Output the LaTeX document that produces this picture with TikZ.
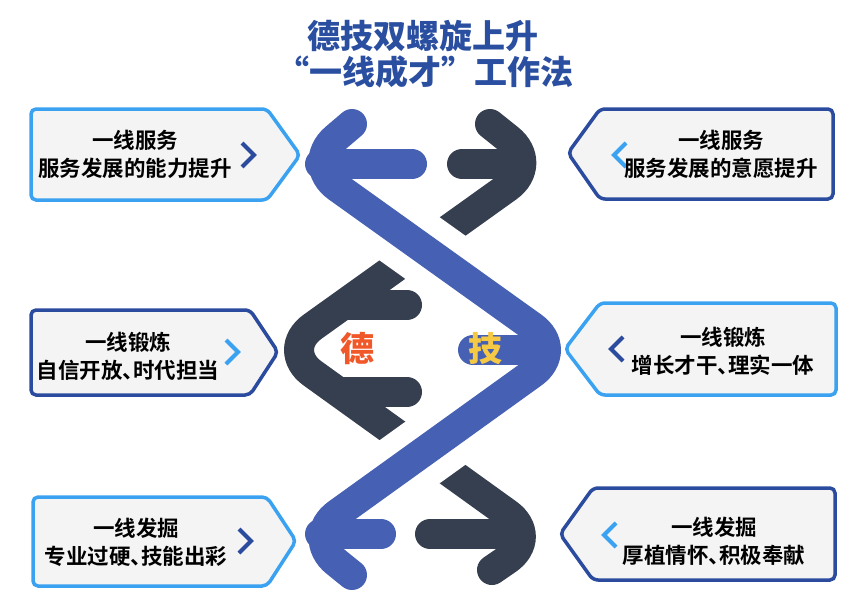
\documentclass[tikz,border=0pt]{standalone}
\usepackage{fontspec}
\setmainfont{Noto Sans CJK SC}[BoldFont={Noto Sans CJK SC Bold}]
\newfontfamily\heavyfont{Noto Sans CJK SC Black}
\usepackage{xcolor}
\usetikzlibrary{calc}

\definecolor{strandblue}{HTML}{4660B4}
\definecolor{stranddark}{HTML}{363F4F}
\definecolor{lightedge}{HTML}{3AA2F0}
\definecolor{darkedge}{HTML}{2B4C9E}
\definecolor{boxfill}{HTML}{F4F4F4}
\definecolor{titleblue}{HTML}{2B4FA0}
\definecolor{deorange}{HTML}{F0582A}
\definecolor{jiyellow}{HTML}{F6C945}

\newcommand{\dun}{、\kern-0.5em}

\begin{document}
\begin{tikzpicture}[x=1pt, y=-1pt]

\tikzstyle{bluestrand} = [line width=30pt, line cap=round, color=strandblue, rounded corners=40pt]
\tikzstyle{darkstrand} = [line width=30pt, line cap=round, color=stranddark, rounded corners=40pt]
\tikzstyle{gap} = [line width=70pt, white]
\tikzstyle{lightbox} = [draw=lightedge, line width=3.5pt, fill=boxfill, rounded corners=5pt]
\tikzstyle{darkbox} = [draw=darkedge, line width=3.5pt, fill=boxfill, rounded corners=5pt]
\tikzstyle{boxtext} = [align=center, font=\bfseries\fontsize{21.5}{28}\selectfont]
\tikzstyle{lightchev} = [draw=lightedge, line width=4pt]
\tikzstyle{darkchev} = [draw=darkedge, line width=4pt]
\tikzstyle{headline} = [text=titleblue, font=\heavyfont\fontsize{33}{33}\selectfont]

\useasboundingbox (0,0) rectangle (864,597);

% title
\node[headline] (head) at (423,36) {德技双螺旋上升};
\node[headline] (subhead) at (425,72) {“一线成才”工作法};

% helix
\coordinate (b0) at (352,124);
\coordinate (b1) at (305,164);
\coordinate (b2) at (565,350);
\coordinate (b3) at (305,537);
\coordinate (b4) at (352,575);
\coordinate (d0) at (490,124);
\coordinate (d1) at (540,164);
\coordinate (d2) at (280,350);
\coordinate (d3) at (540,537);
\coordinate (d4) at (492,570);

\draw[darkstrand] (d0) -- (d1) -- (d2) -- (d3) -- (d4);
\draw[darkstrand] (462,164) -- (510,164);
\draw[darkstrand] (345,305) -- (407,305);
\draw[darkstrand] (340,392) -- (407,392);
\draw[darkstrand] (430,534) -- (510,534);

\draw[gap] ($(b1)!0.3!(b2)$) -- ($(b1)!0.7!(b2)$);
\draw[gap] ($(b2)!0.3!(b3)$) -- ($(b2)!0.7!(b3)$);

\draw[bluestrand] (b0) -- (b1) -- (b2) -- (b3) -- (b4);
\draw[bluestrand] (320,164) -- (412,164);
\draw[bluestrand] (473,350) -- (545,350);
\draw[bluestrand] (320,534) -- (381,534);

\node[text=deorange, font=\heavyfont\fontsize{34}{34}\selectfont] (de) at (357,349) {德};
\node[text=jiyellow, font=\heavyfont\fontsize{34}{34}\selectfont] (ji) at (485,349) {技};

% left boxes
\draw[lightbox] (31,109) -- (267,109) -- (300,155) -- (267,200) -- (31,200) -- cycle;
\draw[darkbox] (31,310) -- (250,310) -- (278,352) -- (250,395) -- (31,395) -- cycle;
\draw[lightbox] (33,497) -- (267,497) -- (296,541) -- (267,586) -- (33,586) -- cycle;
\draw[darkchev] (242,143) -- (254,155) -- (242,167);
\draw[lightchev] (226,340) -- (238,352) -- (226,364);
\draw[darkchev] (239,529) -- (251,541) -- (239,553);
\node[boxtext] (lserve) at (135,154) {一线服务\\服务发展的能力提升};
\node[boxtext] (ltrain) at (128,356) {一线锻炼\\自信开放\dun 时代担当};
\node[boxtext] (ldig) at (136,542) {一线发掘\\专业过硬\dun 技能出彩};

% right boxes
\draw[darkbox] (568,153) -- (600,109) -- (833,109) -- (833,199) -- (600,199) -- cycle;
\draw[lightbox] (565,349) -- (600,303) -- (836,303) -- (836,395) -- (600,395) -- cycle;
\draw[darkbox] (560,534) -- (593,488) -- (835,488) -- (835,580) -- (593,580) -- cycle;
\draw[lightchev] (626,143) -- (614,155) -- (626,167);
\draw[darkchev] (623,337) -- (611,349) -- (623,361);
\draw[lightchev] (616,523) -- (604,535) -- (616,547);
\node[boxtext] (rserve) at (721,154) {一线服务\\服务发展的意愿提升};
\node[boxtext] (rtrain) at (723,351) {一线锻炼\\增长才干\dun 理实一体};
\node[boxtext] (rdig) at (714,541) {一线发掘\\厚植情怀\dun 积极奉献};

\end{tikzpicture}
\end{document}
